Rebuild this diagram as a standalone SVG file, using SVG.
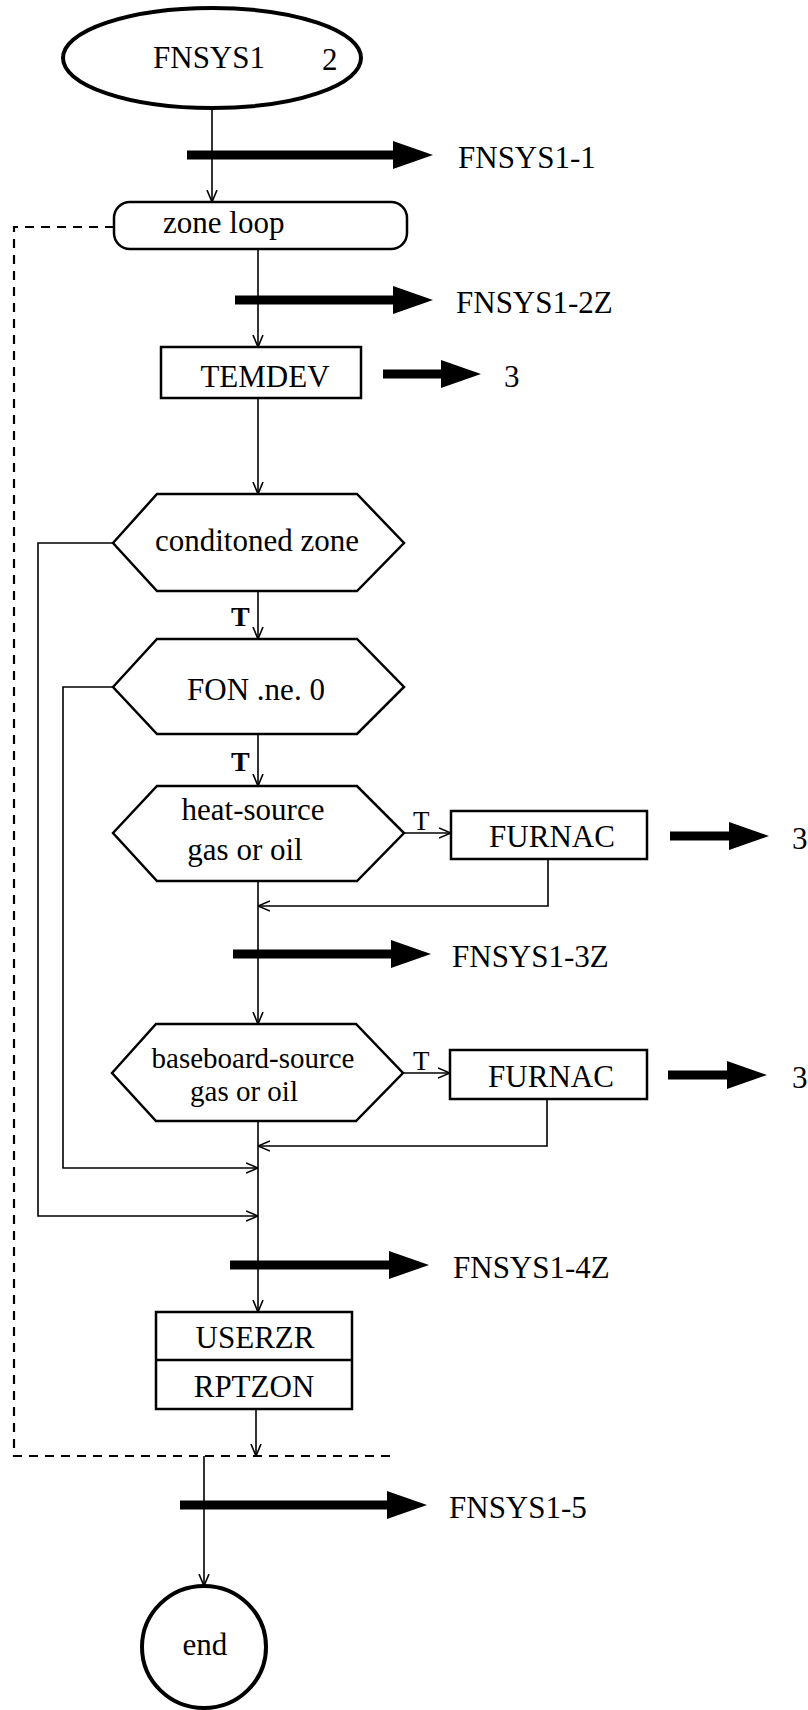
<svg xmlns="http://www.w3.org/2000/svg" width="808" height="1710" viewBox="0 0 808 1710">
<style>
text{font-family:"Liberation Serif","Times New Roman",serif;font-size:31px;fill:#000}
.mid{text-anchor:middle}
.t{font-size:28px;font-weight:bold}
.ts{font-size:27px}
.sm{font-size:29px}
.shape{fill:#fff;stroke:#000;stroke-width:2.5}
.bold{fill:#fff;stroke:#000;stroke-width:4}
.conn{fill:none;stroke:#000;stroke-width:1.6}
.dash{fill:none;stroke:#000;stroke-width:2.2;stroke-dasharray:9,7}
.fat{fill:#000;stroke:none}
</style>
<defs>
<marker id="ah" viewBox="0 0 12 12" refX="12" refY="6" markerWidth="12" markerHeight="12" markerUnits="userSpaceOnUse" orient="auto">
<path d="M0,1 L12,6 L0,11" fill="none" stroke="#000" stroke-width="1.6"/>
</marker>
</defs>

<g id="connectors">
<path class="dash" d="M114,227 H14 V1456 H396"/>
<path class="conn" marker-end="url(#ah)" d="M212,108 V202"/>
<path class="conn" marker-end="url(#ah)" d="M258,249 V347"/>
<path class="conn" marker-end="url(#ah)" d="M258,398 V494"/>
<path class="conn" marker-end="url(#ah)" d="M258,591 V639"/>
<path class="conn" marker-end="url(#ah)" d="M258,734 V786"/>
<path class="conn" marker-end="url(#ah)" d="M404,833 H451"/>
<path class="conn" marker-end="url(#ah)" d="M548,859 V906 H258"/>
<path class="conn" marker-end="url(#ah)" d="M258,881 V1024"/>
<path class="conn" marker-end="url(#ah)" d="M403,1073 H450"/>
<path class="conn" marker-end="url(#ah)" d="M547,1099 V1146 H258"/>
<path class="conn" marker-end="url(#ah)" d="M258,1121 V1312"/>
<path class="conn" marker-end="url(#ah)" d="M113,687 H63 V1168 H258"/>
<path class="conn" marker-end="url(#ah)" d="M113,543 H38 V1216 H258"/>
<path class="conn" marker-end="url(#ah)" d="M256,1409 V1456"/>
<path class="conn" marker-end="url(#ah)" d="M204,1456 V1586"/>
<text class="t" x="231" y="626">T</text>
<text class="t" x="231" y="771">T</text>
<text class="ts" x="413" y="830">T</text>
<text class="ts" x="413" y="1070">T</text>
</g>

<g id="dataflows">
<path class="fat" d="M187,150.5 H393 V141 L433,155 L393,169 V159.5 H187 Z"/>
<text x="458" y="168">FNSYS1-1</text>
<path class="fat" d="M235,295.5 H393 V286 L433,300 L393,314 V304.5 H235 Z"/>
<text x="456" y="313">FNSYS1-2Z</text>
<path class="fat" d="M383,369.5 H441 V360 L481,374 L441,388 V378.5 H383 Z"/>
<text x="504" y="387">3</text>
<path class="fat" d="M670,831.5 H729 V822 L769,836 L729,850 V840.5 H670 Z"/>
<text x="792" y="849">3</text>
<path class="fat" d="M233,949.5 H391 V940 L431,954 L391,968 V958.5 H233 Z"/>
<text x="452" y="967">FNSYS1-3Z</text>
<path class="fat" d="M668,1070.5 H727 V1061 L767,1075 L727,1089 V1079.5 H668 Z"/>
<text x="792" y="1088">3</text>
<path class="fat" d="M230,1260.5 H389 V1251 L429,1265 L389,1279 V1269.5 H230 Z"/>
<text x="453" y="1278">FNSYS1-4Z</text>
<path class="fat" d="M180,1500.5 H387 V1491 L427,1505 L387,1519 V1509.5 H180 Z"/>
<text x="449" y="1518">FNSYS1-5</text>
</g>

<g id="start">
<ellipse class="bold" cx="212" cy="58" rx="149" ry="50"/>
<text x="153" y="68">FNSYS1</text>
<text x="322" y="70">2</text>
</g>

<g id="zoneloop">
<rect class="shape" x="114" y="202" width="293" height="47" rx="16" ry="16"/>
<text x="163" y="233">zone loop</text>
</g>

<g id="temdev">
<rect class="shape" x="161" y="347" width="200" height="51"/>
<text class="mid" x="265" y="387">TEMDEV</text>
</g>

<g id="conditioned">
<polygon class="shape" points="113,543 157,494 357,494 404,543 357,591 157,591"/>
<text class="mid" x="257" y="551">conditoned zone</text>
</g>

<g id="fon">
<polygon class="shape" points="113,687 157,639 357,639 404,687 357,734 157,734"/>
<text class="mid" x="256" y="700">FON .ne. 0</text>
</g>

<g id="heatsource">
<polygon class="shape" points="113,833 157,786 357,786 404,833 357,881 157,881"/>
<text class="mid" x="253" y="820">heat-source</text>
<text class="mid" x="245" y="860">gas or oil</text>
</g>

<g id="furnac1">
<rect class="shape" x="451" y="811" width="196" height="48"/>
<text class="mid" x="552" y="847">FURNAC</text>
</g>

<g id="baseboard">
<polygon class="shape" points="112,1073 156,1024 356,1024 403,1073 356,1121 156,1121"/>
<text class="mid sm" x="253" y="1068">baseboard-source</text>
<text class="mid sm" x="244" y="1101">gas or oil</text>
</g>

<g id="furnac2">
<rect class="shape" x="450" y="1050" width="197" height="49"/>
<text class="mid" x="551" y="1087">FURNAC</text>
</g>

<g id="userzr">
<rect class="shape" x="156" y="1312" width="196" height="97"/>
<line class="shape" x1="156" y1="1360" x2="352" y2="1360"/>
<text class="mid" x="255" y="1348">USERZR</text>
<text class="mid" x="254" y="1397">RPTZON</text>
</g>

<g id="end">
<ellipse class="bold" cx="204" cy="1647" rx="62" ry="61"/>
<text class="mid" x="205" y="1655">end</text>
</g>
</svg>
